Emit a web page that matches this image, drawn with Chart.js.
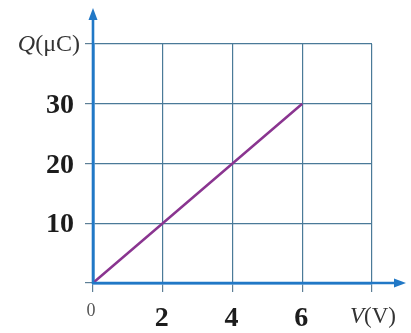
<!DOCTYPE html>
<html>
<head>
<meta charset="utf-8">
<script src="https://cdn.jsdelivr.net/npm/chart.js@4/dist/chart.umd.min.js"></script>
<style>
  html, body { margin: 0; padding: 0; background: #ffffff; }
  #wrap { width: 411px; height: 333px; position: relative; }
</style>
</head>
<body>
<div id="wrap"><canvas id="qv"></canvas></div>
<script>
// Charge stored on a capacitor versus applied voltage
const voltage = [0, 2, 4, 6];          // V (V)
const charge  = [0, 10, 20, 30];       // Q (µC)
const xTickLabels = [2, 4, 6];         // bold labels under the x axis
const yTickLabels = [10, 20, 30];      // bold labels beside the y axis
const xMax = 8, yMax = 40;

const AXIS_BLUE = '#2178c6';
const GRID = '#4a7a98';
const SERIF = '"Liberation Serif", "DejaVu Serif", serif';

// Axes with arrowheads, the custom tick labels and the axis names
const decorations = {
  id: 'decorations',
  afterDraw(chart) {
    const { ctx, scales: { x, y } } = chart;
    const x0 = x.getPixelForValue(0), y0 = y.getPixelForValue(0);
    ctx.save();
    // axis lines extended past the plot
    ctx.strokeStyle = AXIS_BLUE;
    ctx.fillStyle = AXIS_BLUE;
    ctx.lineWidth = 2.6;
    ctx.beginPath();
    ctx.moveTo(x0, y0 + 1); ctx.lineTo(x0, 16);
    ctx.moveTo(x0 - 1, y0); ctx.lineTo(398, y0);
    ctx.stroke();
    // arrowheads
    ctx.beginPath();
    ctx.moveTo(x0, 8); ctx.lineTo(x0 - 4.5, 20); ctx.lineTo(x0 + 4.5, 20); ctx.closePath();
    ctx.fill();
    ctx.beginPath();
    ctx.moveTo(406, y0); ctx.lineTo(394, y0 - 4.5); ctx.lineTo(394, y0 + 4.5); ctx.closePath();
    ctx.fill();

    // y tick labels
    ctx.fillStyle = '#1c1c1c';
    ctx.font = 'bold 28px ' + SERIF;
    ctx.textAlign = 'right';
    ctx.textBaseline = 'middle';
    yTickLabels.forEach(v => ctx.fillText(String(v), 74, y.getPixelForValue(v) + 2));
    // x tick labels
    ctx.textAlign = 'center';
    xTickLabels.forEach(v => ctx.fillText(String(v), x.getPixelForValue(v) - 1, 319));
    // origin label
    ctx.fillStyle = '#555';
    ctx.font = '18px ' + SERIF;
    ctx.fillText('0', x0 - 2, 311);

    // axis names with italic quantity symbol
    ctx.fillStyle = '#333';
    ctx.textAlign = 'left';
    function mixed(parts, startX, cy, size) {
      let cx = startX;
      parts.forEach(([t, it]) => {
        ctx.font = (it ? 'italic ' : '') + size + 'px ' + SERIF;
        ctx.fillText(t, cx, cy);
        cx += ctx.measureText(t).width;
      });
      return cx - startX;
    }
    // measure Q(µC) so it ends just left of the y axis
    const qParts = [['Q', true], ['(\u03bcC)', false]];
    ctx.font = 'italic 24px ' + SERIF;
    let w = ctx.measureText('Q').width;
    ctx.font = '24px ' + SERIF;
    w += ctx.measureText('(\u03bcC)').width;
    mixed(qParts, 80 - w, y.getPixelForValue(yMax) + 1, 24);
    mixed([['V', true], ['(V)', false]], 350, 317, 23);
    ctx.restore();
  }
};

new Chart(document.getElementById('qv'), {
  type: 'line',
  data: {
    datasets: [{
      data: voltage.map((v, i) => ({ x: v, y: charge[i] })),
      borderColor: '#8a3590',
      borderWidth: 2.5,
      pointRadius: 0,
      tension: 0,
      fill: false
    }]
  },
  options: {
    responsive: true,
    maintainAspectRatio: false,
    animation: false,
    layout: { padding: { left: 0, top: 44, right: 39, bottom: 0 } },
    plugins: { legend: { display: false }, tooltip: { enabled: false } },
    scales: {
      x: {
        type: 'linear',
        min: 0, max: xMax,
        ticks: { display: false, stepSize: 2 },
        grid: { color: GRID, lineWidth: 1.2, drawTicks: true, tickLength: 9, tickColor: '#5d7f96' },
        border: { display: true, color: AXIS_BLUE, width: 2.6 },
        afterFit(s) { s.height = 50; }
      },
      y: {
        min: 0, max: yMax,
        ticks: { display: false, stepSize: 10 },
        grid: { color: GRID, lineWidth: 1.2, drawTicks: true, tickLength: 8, tickColor: '#5d7f96' },
        border: { display: true, color: AXIS_BLUE, width: 2.6 },
        afterFit(s) { s.width = 93; }
      }
    }
  },
  plugins: [decorations]
});
</script>
</body>
</html>
